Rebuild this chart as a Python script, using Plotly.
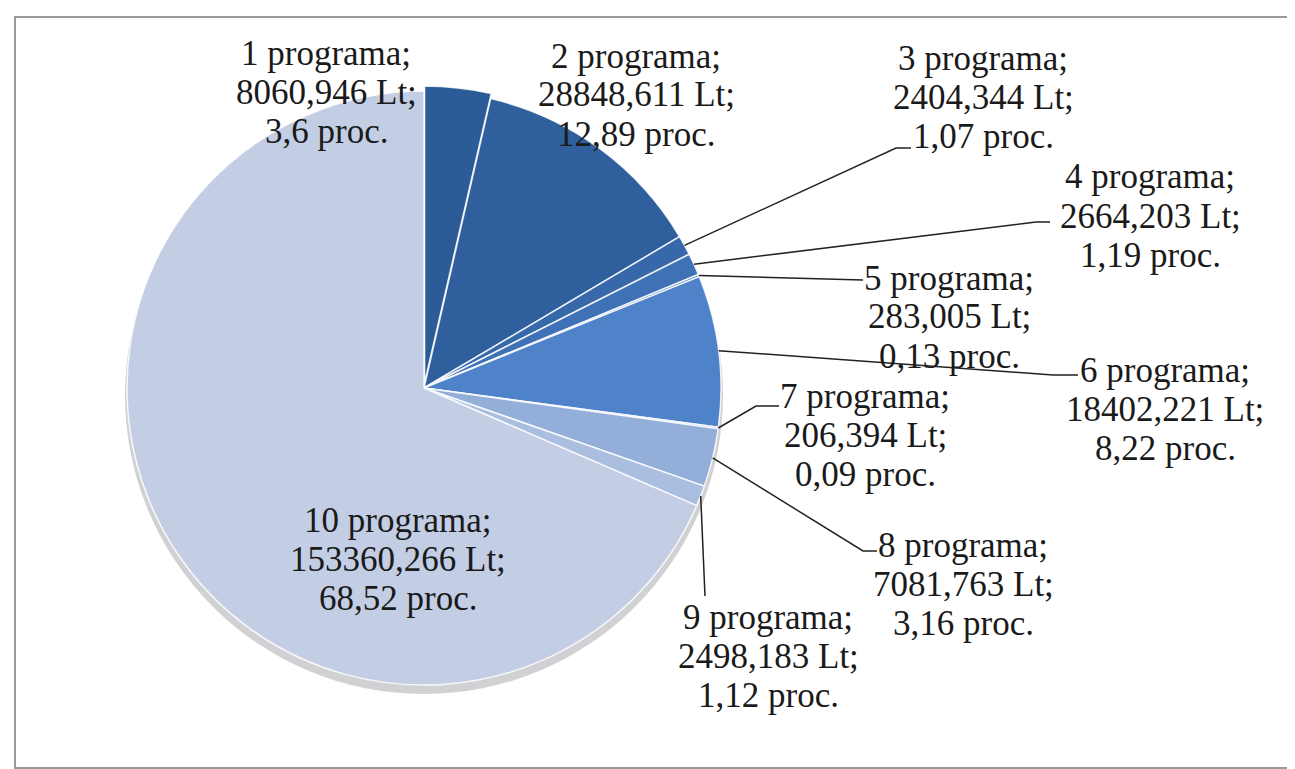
import plotly.graph_objects as go
import math

W, H = 1295, 769

# data
programs = ["1 programa", "2 programa", "3 programa", "4 programa", "5 programa",
            "6 programa", "7 programa", "8 programa", "9 programa", "10 programa"]
amounts_lt = [8060.946, 28848.611, 2404.344, 2664.203, 283.005,
              18402.221, 206.394, 7081.763, 2498.183, 153360.266]
shares_proc = [3.6, 12.89, 1.07, 1.19, 0.13, 8.22, 0.09, 3.16, 1.12, 68.52]

slice_colors = ["#2c5c97", "#2f5f9c", "#3668aa", "#3e71b5", "#477abf",
                "#4f83c9", "#86a3d3", "#93aed9", "#aabee0", "#c3cee5"]

# label layout (pixel centre x, first-line y) and leader elbows
label_x = [318, 628, 975, 1142, 941, 1157, 857, 955, 760, 390]
label_y = [45, 48, 50, 169, 270, 362, 388, 537, 609, 512]
leader_pts = {
    2: [(888, 140), (903, 140)],
    3: [(1028, 214), (1042, 214)],
    4: [(855, 272)],
    5: [(1045, 367), (1070, 367)],
    6: [(748, 398), (771, 398)],
    7: [(855, 543), (869, 543)],
    8: [(697, 588)],
}
LINE_GAP = 39

# pie geometry (pixels)
CX, CY, R = 416, 380, 297
PULL = 0.017


def px(x):
    return x / W


def py(y):
    return 1 - y / H


def fmt(v, spec):
    return format(v, spec).replace(".", ",")


half = R * (1 + PULL)
dom_x = [px(CX - half), px(CX + half)]
dom_y = [py(CY + half), py(CY - half)]

fig = go.Figure()

# soft shadow under the pie
sh = 7
fig.add_trace(
    go.Pie(
        values=[1],
        domain=dict(x=[px(CX - R - 2), px(CX + R + 2)], y=[py(CY + R + 2 + sh), py(CY - R - 2 + sh)]),
        marker=dict(colors=["rgba(90,90,100,0.28)"], line=dict(width=0)),
        textinfo="none",
        hoverinfo="skip",
        showlegend=False,
        sort=False,
    )
)

fig.add_trace(
    go.Pie(
        labels=programs,
        values=amounts_lt,
        sort=False,
        direction="clockwise",
        rotation=0,
        pull=[PULL] + [0] * (len(programs) - 1),
        domain=dict(x=dom_x, y=dom_y),
        marker=dict(colors=slice_colors, line=dict(color="rgba(255,255,255,0.85)", width=1.5)),
        textinfo="none",
        hoverinfo="label+value+percent",
        showlegend=False,
    )
)

# labels, one annotation per line
total = sum(amounts_lt)
cum = 0.0
annotations = []
shapes = []
for i, (name, amt, pct) in enumerate(zip(programs, amounts_lt, shares_proc)):
    lines = [name + ";", fmt(amt, ".3f") + " Lt;", fmt(pct, "g") + " proc."]
    for k, txt in enumerate(lines):
        annotations.append(
            dict(
                text=txt,
                x=px(label_x[i]),
                y=py(label_y[i] + k * LINE_GAP),
                xref="paper",
                yref="paper",
                xanchor="center",
                yanchor="middle",
                showarrow=False,
                font=dict(family="Liberation Serif, Times New Roman, serif", size=35, color="#1a1a1a"),
            )
        )
    mid = (cum + amt / 2) / total * 2 * math.pi
    cum += amt
    if i in leader_pts:
        ex = CX + R * math.sin(mid)
        ey = CY - R * math.cos(mid)
        path = f"M {px(ex)} {py(ey)}"
        for (lx, ly) in leader_pts[i]:
            path += f" L {px(lx)} {py(ly)}"
        shapes.append(dict(type="path", path=path, xref="paper", yref="paper",
                           line=dict(color="#222222", width=1.5)))

# frame with shadow on right and bottom
shapes.append(dict(type="rect", xref="paper", yref="paper",
                   x0=px(1279), x1=px(1290), y0=py(764), y1=py(14),
                   fillcolor="#6e6e6e", line=dict(width=0), layer="below"))
shapes.append(dict(type="rect", xref="paper", yref="paper",
                   x0=px(10), x1=px(1290), y0=py(767), y1=py(758),
                   fillcolor="#d9d9d9", line=dict(width=0), layer="below"))
shapes.append(dict(type="rect", xref="paper", yref="paper",
                   x0=px(7), x1=px(1283), y0=py(760), y1=py(9),
                   fillcolor="white", line=dict(color="#9a9a9a", width=2), layer="below"))

fig.update_layout(
    width=W,
    height=H,
    margin=dict(l=0, r=0, t=0, b=0),
    paper_bgcolor="white",
    plot_bgcolor="white",
    annotations=annotations,
    shapes=shapes,
    showlegend=False,
)

fig.write_html("out.html")
